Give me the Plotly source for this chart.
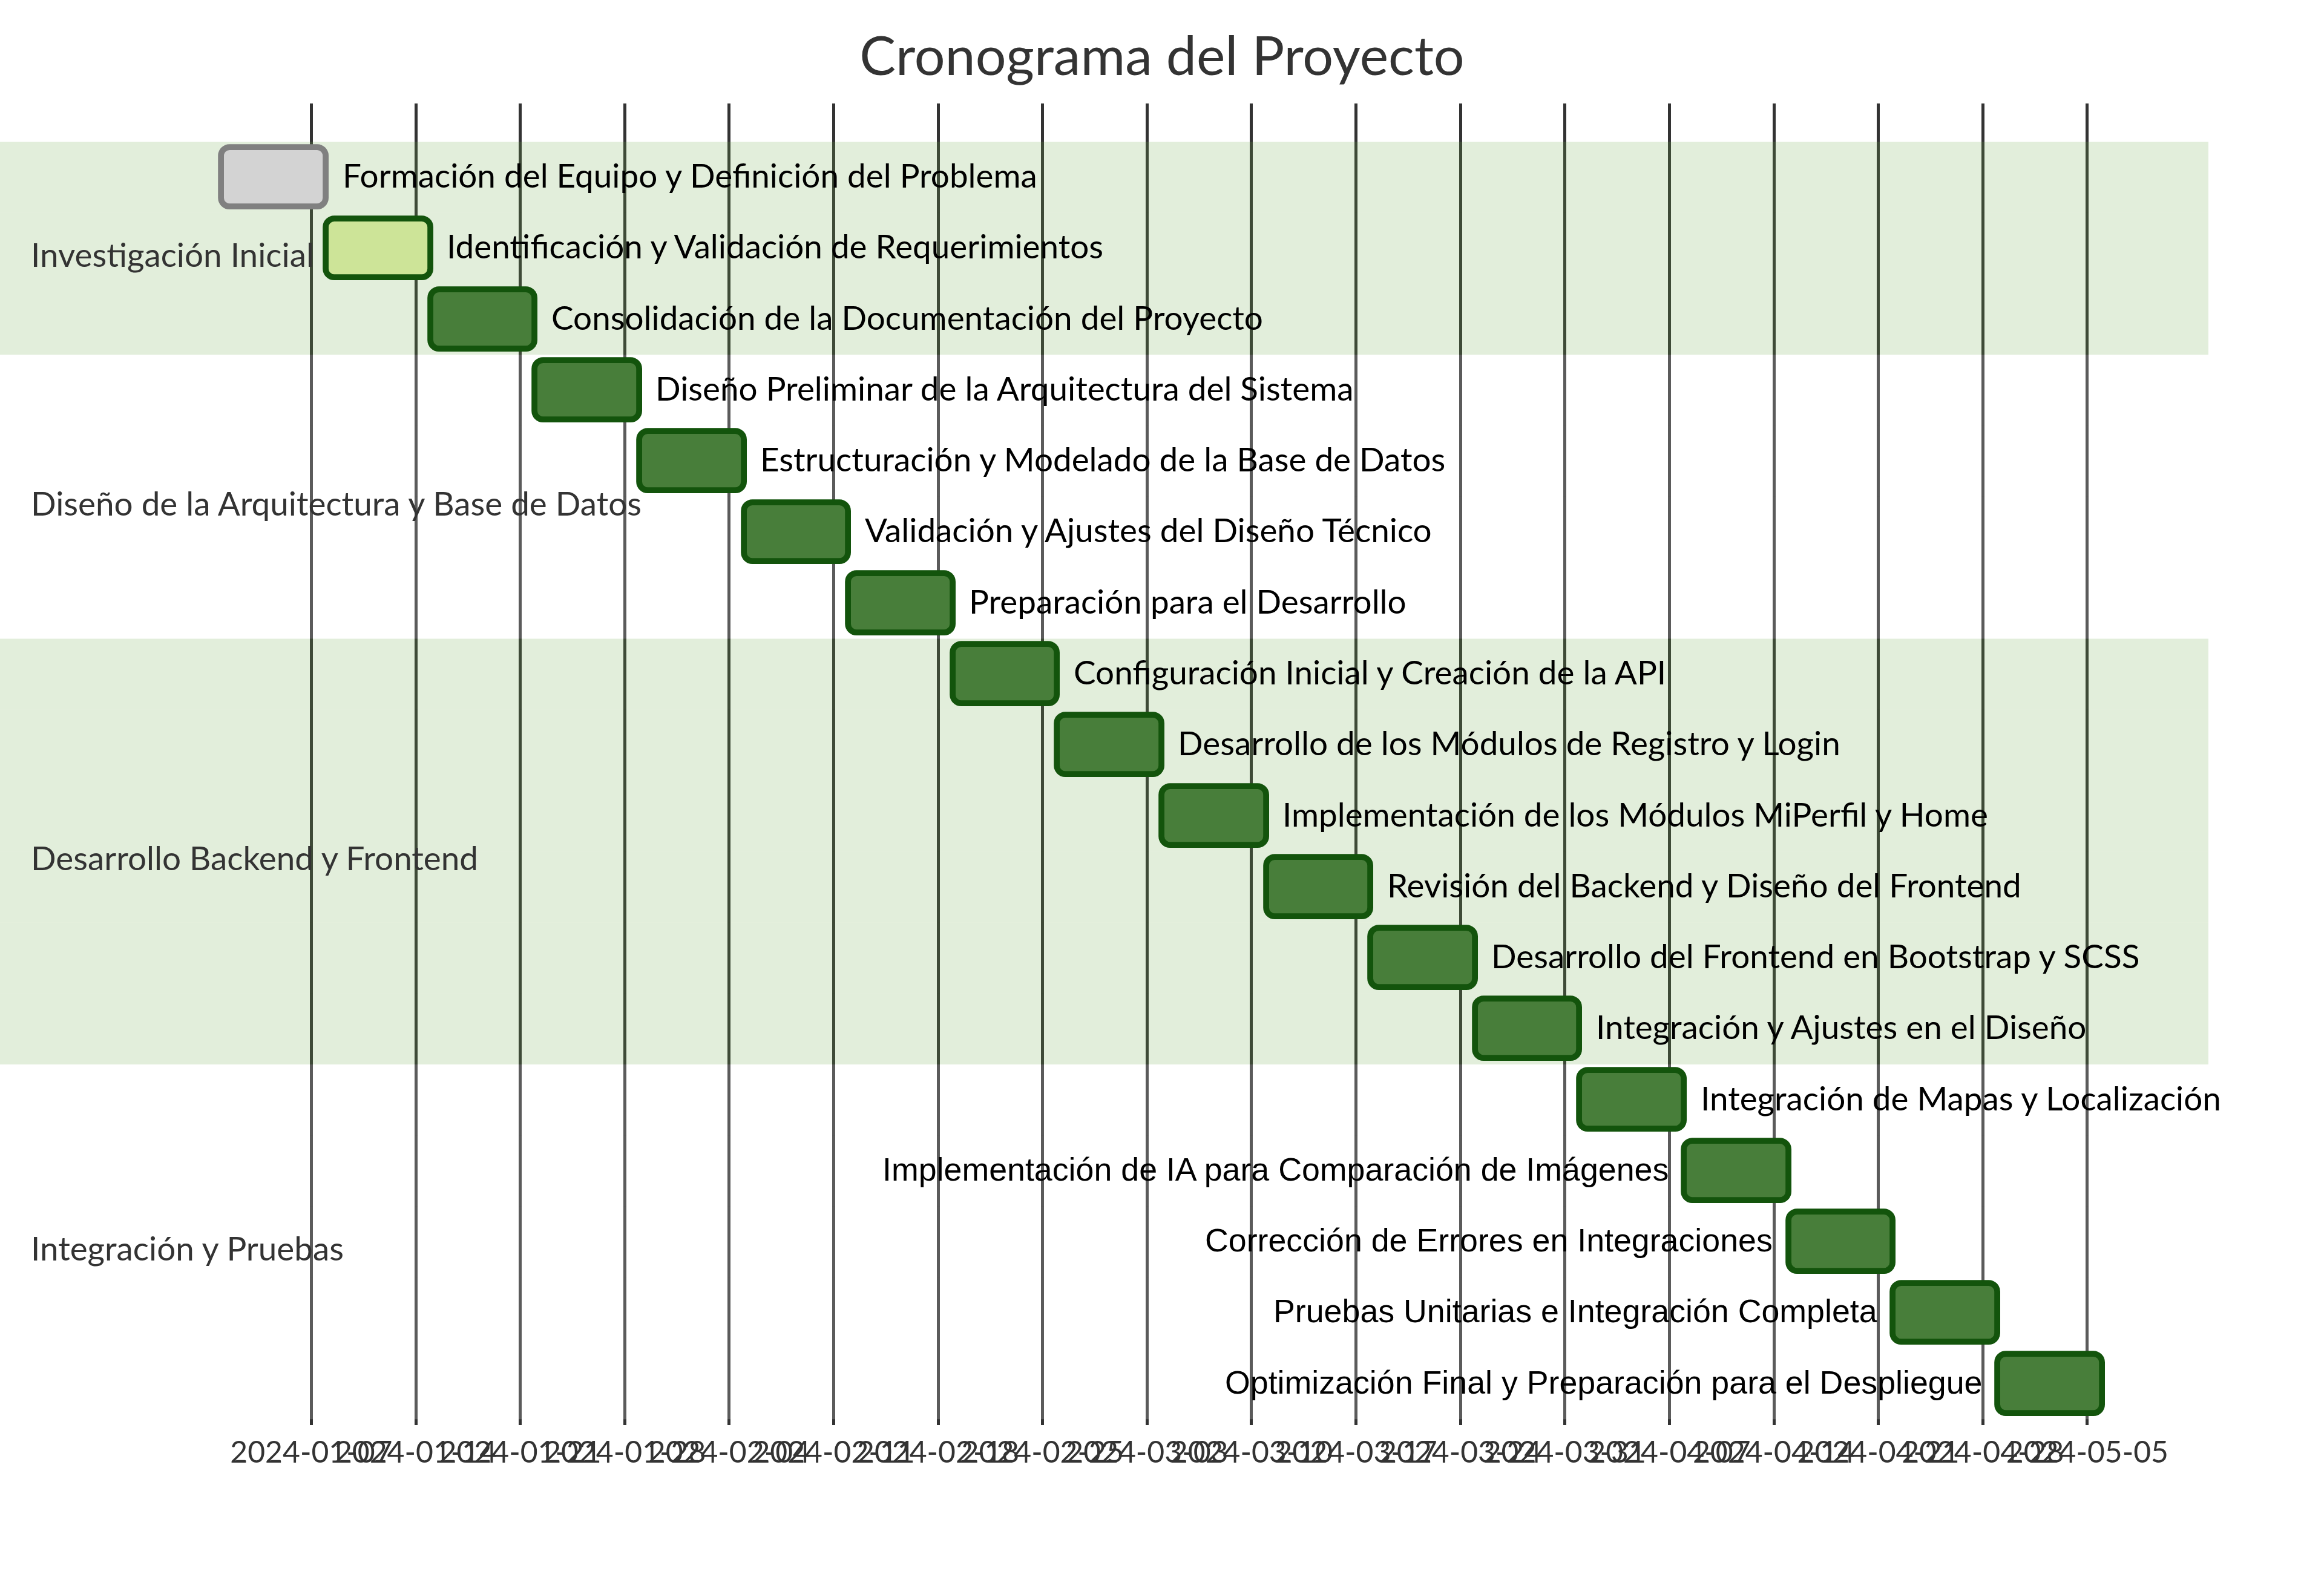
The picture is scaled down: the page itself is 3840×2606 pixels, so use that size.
import plotly.graph_objects as go
import pandas as pd

# ---------------- data ----------------
TITLE = "Cronograma del Proyecto"

section_names = [
    "Investigación Inicial",
    "Diseño de la Arquitectura y Base de Datos",
    "Desarrollo Backend y Frontend",
    "Integración y Pruebas",
]

task_names = [
    "Formación del Equipo y Definición del Problema",
    "Identificación y Validación de Requerimientos",
    "Consolidación de la Documentación del Proyecto",
    "Diseño Preliminar de la Arquitectura del Sistema",
    "Estructuración y Modelado de la Base de Datos",
    "Validación y Ajustes del Diseño Técnico",
    "Preparación para el Desarrollo",
    "Configuración Inicial y Creación de la API",
    "Desarrollo de los Módulos de Registro y Login",
    "Implementación de los Módulos MiPerfil y Home",
    "Revisión del Backend y Diseño del Frontend",
    "Desarrollo del Frontend en Bootstrap y SCSS",
    "Integración y Ajustes en el Diseño",
    "Integración de Mapas y Localización",
    "Implementación de IA para Comparación de Imágenes",
    "Corrección de Errores en Integraciones",
    "Pruebas Unitarias e Integración Completa",
    "Optimización Final y Preparación para el Despliegue",
]

task_section = [0, 0, 0, 1, 1, 1, 1, 2, 2, 2, 2, 2, 2, 3, 3, 3, 3, 3]

task_start = [
    "2024-01-01", "2024-01-08", "2024-01-15", "2024-01-22", "2024-01-29",
    "2024-02-05", "2024-02-12", "2024-02-19", "2024-02-26", "2024-03-04",
    "2024-03-11", "2024-03-18", "2024-03-25", "2024-04-01", "2024-04-08",
    "2024-04-15", "2024-04-22", "2024-04-29",
]
task_end = [
    "2024-01-08", "2024-01-15", "2024-01-22", "2024-01-29", "2024-02-05",
    "2024-02-12", "2024-02-19", "2024-02-26", "2024-03-04", "2024-03-11",
    "2024-03-18", "2024-03-25", "2024-04-01", "2024-04-08", "2024-04-15",
    "2024-04-22", "2024-04-29", "2024-05-06",
]
task_status = ["done", "active"] + ["normal"] * 16

tick_dates = [
    "2024-01-07", "2024-01-14", "2024-01-21", "2024-01-28", "2024-02-04",
    "2024-02-11", "2024-02-18", "2024-02-25", "2024-03-03", "2024-03-10",
    "2024-03-17", "2024-03-24", "2024-03-31", "2024-04-07", "2024-04-14",
    "2024-04-21", "2024-04-28", "2024-05-05",
]

# ---------------- layout constants ----------------
W, H = 3840, 2606
S = 4.886                 # pixels per diagram unit
BAR_H, GAP, TOP_PAD, SIDE_PAD, GRID_PAD = 20, 24, 50, 75, 35
FONT_MAIN = "Trebuchet MS, Lato, Open Sans, sans-serif"
FONT_LEFT = "Arial, Liberation Sans, sans-serif"
FS_MAIN = 11 * S * 1.02
FS_LEFT = 11 * S

fill = {"done": "#d3d3d3", "active": "#cde498", "normal": "#487e3a"}
border = {"done": "#808080", "active": "#13540c", "normal": "#13540c"}
band_fill = ["rgba(110,170,73,0.2)", "rgba(255,255,255,0.2)"]

starts = pd.to_datetime(task_start)
ends = pd.to_datetime(task_end)
t0, t1 = starts.min(), ends.max()
total_days = (t1 - t0) / pd.Timedelta(days=1)
px_per_day = (W - 2 * SIDE_PAD * S) / total_days
pad = pd.Timedelta(days=SIDE_PAD * S / px_per_day)
x_lo, x_hi = t0 - pad, t1 + pad

n = len(task_names)
h_units = n * GAP + 2 * TOP_PAD
axis_y = h_units - 50
grid_top = axis_y - (h_units - TOP_PAD - GRID_PAD)

def ypos(i):
    return i * GAP + TOP_PAD + BAR_H / 2

fig = go.Figure()

# section bands
band_x1 = x_lo + pd.Timedelta(days=3649 / px_per_day)
shapes = []
for i in range(n):
    shapes.append(dict(
        type="rect", xref="x", yref="y", layer="between",
        x0=x_lo, x1=band_x1,
        y0=i * GAP + TOP_PAD - 2, y1=i * GAP + TOP_PAD - 2 + GAP,
        fillcolor=band_fill[task_section[i] % 2], line=dict(width=0),
    ))

# bars
durations = [(e - s) / pd.Timedelta(milliseconds=1) for s, e in zip(starts, ends)]
fig.add_trace(go.Bar(
    orientation="h",
    y=[ypos(i) for i in range(n)],
    base=[s.strftime("%Y-%m-%d") for s in starts],
    x=durations,
    width=BAR_H,
    marker=dict(
        color=[fill[s] for s in task_status],
        line=dict(color=[border[s] for s in task_status], width=2 * S),
        cornerradius=3 * S,
    ),
    hoverinfo="skip",
    showlegend=False,
))

annotations = []
# task labels
for i, name in enumerate(task_names):
    end_px = SIDE_PAD * S + ((ends[i] - t0) / pd.Timedelta(days=1)) * px_per_day
    est_w = len(name) * 0.455 * 11 * S
    if end_px + 5 * S + est_w > W:
        annotations.append(dict(
            x=starts[i].strftime("%Y-%m-%d"), y=ypos(i), xref="x", yref="y",
            text=name, showarrow=False, xanchor="right", yanchor="middle",
            xshift=-5 * S, yshift=3,
            font=dict(family=FONT_LEFT, size=FS_LEFT, color="#000000"),
        ))
    else:
        annotations.append(dict(
            x=ends[i].strftime("%Y-%m-%d"), y=ypos(i), xref="x", yref="y",
            text=name, showarrow=False, xanchor="left", yanchor="middle",
            xshift=5 * S, yshift=4,
            font=dict(family=FONT_MAIN, size=FS_MAIN, color="#000000"),
        ))

# section labels
row = 0
for k, sec in enumerate(section_names):
    cnt = task_section.count(k)
    annotations.append(dict(
        x=10 * S / W, y=row * GAP + cnt * GAP / 2 + TOP_PAD, xref="paper", yref="y",
        text=sec, showarrow=False, xanchor="left", yanchor="middle",
        font=dict(family=FONT_MAIN, size=FS_MAIN, color="#333333"),
    ))
    row += cnt

fig.update_layout(
    width=W, height=H,
    margin=dict(l=0, r=0, t=0, b=0),
    paper_bgcolor="white", plot_bgcolor="rgba(0,0,0,0)",
    title=dict(text=TITLE, x=0.5, xanchor="center", xref="paper",
               y=1 - 93 / H, yref="container", yanchor="middle",
               font=dict(family=FONT_MAIN, size=18 * S * 1.02, color="#333333")),
    shapes=shapes,
    annotations=annotations,
    xaxis=dict(
        type="date", range=[x_lo, x_hi], domain=[0, 1],
        tickvals=tick_dates, ticktext=tick_dates, tickangle=0,
        showgrid=True, gridcolor="#333333", gridwidth=1 * S,
        ticks="inside", ticklen=8, tickwidth=1 * S, tickcolor="#333333",
        showline=False, zeroline=False,
        tickfont=dict(family=FONT_MAIN, size=10 * S * 1.02, color="#333333"),
        ticklabelstandoff=11,
    ),
    yaxis=dict(
        range=[axis_y, grid_top],
        domain=[1 - axis_y * S / H, 1 - grid_top * S / H],
        showgrid=False, zeroline=False, showticklabels=False, showline=False,
        ticks="",
    ),
    bargap=0,
)

fig.write_html("out.html")
